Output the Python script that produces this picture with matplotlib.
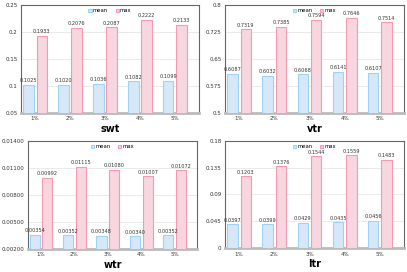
import matplotlib.pyplot as plt
import numpy as np
from matplotlib.ticker import FixedLocator

groups = ["1%", "2%", "3%", "4%", "5%"]

swt_mean = [0.1025, 0.1020, 0.1036, 0.1082, 0.1099]
swt_max = [0.1933, 0.2076, 0.2087, 0.2222, 0.2133]
vtr_mean = [0.6087, 0.6032, 0.6068, 0.6141, 0.6107]
vtr_max = [0.7319, 0.7385, 0.7594, 0.7646, 0.7514]
wtr_mean = [0.00354, 0.00352, 0.00348, 0.00340, 0.00352]
wtr_max = [0.00992, 0.01115, 0.01080, 0.01007, 0.01072]
ltr_mean = [0.0397, 0.0399, 0.0429, 0.0435, 0.0456]
ltr_max = [0.1203, 0.1376, 0.1544, 0.1559, 0.1483]

swt_ticks = [0.05, 0.1, 0.15, 0.2, 0.25]
vtr_ticks = [0.5, 0.575, 0.65, 0.725, 0.8]
wtr_ticks = [0.002, 0.005, 0.008, 0.011, 0.014]
ltr_ticks = [0, 0.045, 0.09, 0.135, 0.18]

panels = [
    ("swt", swt_mean, swt_max, swt_ticks, ["0.05", "0.1", "0.15", "0.2", "0.25"], "{:.4f}",
     [0.052, 0.585, 0.436, 0.397]),
    ("vtr", vtr_mean, vtr_max, vtr_ticks, ["0.5", "0.575", "0.65", "0.725", "0.8"], "{:.4f}",
     [0.553, 0.585, 0.439, 0.397]),
    ("wtr", wtr_mean, wtr_max, wtr_ticks, ["0.00200", "0.00500", "0.00800", "0.01100", "0.01400"], "{:.5f}",
     [0.068, 0.085, 0.417, 0.397]),
    ("ltr", ltr_mean, ltr_max, ltr_ticks, ["0", "0.045", "0.09", "0.135", "0.18"], "{:.4f}",
     [0.553, 0.088, 0.439, 0.394]),
]

mean_face, mean_edge = "#d6e8f7", "#9dd3f4"
max_face, max_edge = "#f7d6df", "#f59ab2"

fig = plt.figure(figsize=(4.07, 2.72), dpi=100)
x = np.arange(len(groups))
w = 0.3
for name, mean, mx, ticks, tlabels, fmt, rect in panels:
    ax = fig.add_axes(rect)
    ax.bar(x - 0.19, mean, w, color=mean_face, edgecolor=mean_edge, linewidth=0.8,
           label="mean", zorder=3)
    ax.bar(x + 0.19, mx, w, color=max_face, edgecolor=max_edge, linewidth=0.8,
           label="max", zorder=3)
    span = ticks[-1] - ticks[0]
    for xi, m, v in zip(x, mean, mx):
        ax.text(xi - 0.19, m + span * 0.015, fmt.format(m), ha="center", va="bottom",
                fontsize=3.6, color="#333333")
        ax.text(xi + 0.19, v + span * 0.015, fmt.format(v), ha="center", va="bottom",
                fontsize=3.6, color="#333333")
    ax.set_ylim(ticks[0], ticks[-1])
    ax.set_xlim(-0.4, 4.68)
    ax.yaxis.set_major_locator(FixedLocator(ticks))
    ax.set_yticklabels(tlabels)
    ax.set_xticks(x)
    ax.set_xticklabels(groups)
    ax.tick_params(axis="both", length=0, labelsize=4, colors="#333333", pad=2.5)
    ax.grid(axis="y", color="#e6e6e6", linewidth=0.6, zorder=0)
    for s in ["left", "top", "right"]:
        ax.spines[s].set_color("#666666")
        ax.spines[s].set_linewidth(0.8)
    ax.spines["bottom"].set_color("#bbbbbb")
    ax.spines["bottom"].set_linewidth(2)
    ax.set_xlabel(name, fontsize=7, fontweight="bold", labelpad=2)
    ax.legend(loc="upper center", ncol=2, frameon=False, fontsize=3.8,
              handlelength=0.6, handleheight=0.6, handletextpad=0.2,
              columnspacing=1.5, borderaxespad=0.2)

fig.savefig("out.png", dpi=100)
